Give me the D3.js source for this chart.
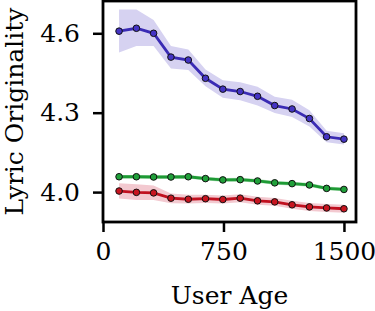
<!DOCTYPE html>
<html>
<head>
<meta charset="utf-8">
<script src="https://cdn.jsdelivr.net/npm/d3@7"></script>
<style>
body { margin: 0; background: #fff; }
svg { display: block; font-family: "DejaVu Serif", serif; }
</style>
</head>
<body>
<div id="chart"></div>
<script>
var ages = [100, 208, 315, 423, 531, 638, 746, 854, 962, 1069, 1177, 1285, 1392, 1500];

var blueMean = [4.608, 4.619, 4.600, 4.510, 4.499, 4.430, 4.389, 4.380, 4.362, 4.327, 4.314, 4.278, 4.209, 4.200];
var blueUpper = [4.690, 4.690, 4.650, 4.552, 4.539, 4.463, 4.423, 4.415, 4.398, 4.360, 4.349, 4.309, 4.232, 4.222];
var blueLower = [4.527, 4.552, 4.552, 4.467, 4.461, 4.400, 4.356, 4.347, 4.327, 4.299, 4.284, 4.248, 4.188, 4.180];

var greenMean = [4.058, 4.058, 4.057, 4.057, 4.058, 4.051, 4.046, 4.047, 4.042, 4.035, 4.032, 4.027, 4.014, 4.010];
var greenUpper = [4.065, 4.065, 4.064, 4.064, 4.065, 4.058, 4.053, 4.054, 4.049, 4.042, 4.039, 4.034, 4.021, 4.017];
var greenLower = [4.051, 4.051, 4.050, 4.050, 4.051, 4.044, 4.039, 4.040, 4.035, 4.028, 4.025, 4.020, 4.007, 4.003];

var redMean = [4.004, 3.999, 3.997, 3.977, 3.973, 3.975, 3.972, 3.977, 3.967, 3.963, 3.952, 3.944, 3.940, 3.937];
var redUpper = [4.033, 4.030, 4.025, 3.995, 3.990, 3.990, 3.987, 3.992, 3.982, 3.978, 3.967, 3.959, 3.955, 3.952];
var redLower = [3.976, 3.970, 3.970, 3.958, 3.957, 3.959, 3.957, 3.962, 3.952, 3.948, 3.937, 3.929, 3.925, 3.922];

var xTicks = [0, 750, 1500];
var yTicks = [4.0, 4.3, 4.6];

var width = 375, height = 311;
var margin = {top: 1, right: 19, bottom: 89, left: 103};

var svg = d3.select("#chart").append("svg")
	.attr("width", width)
	.attr("height", height);

var x = d3.scaleLinear()
	.domain([0, 1575])
	.range([margin.left, width - margin.right]);

var y = d3.scaleLinear()
	.domain([3.887, 4.722])
	.range([height - margin.bottom, margin.top]);

var series = [
	{mean: redMean, upper: redUpper, lower: redLower, line: "#c0101f", band: "#f3c9d0", dot: "#c8141f"},
	{mean: greenMean, upper: greenUpper, lower: greenLower, line: "#1e9a35", band: "#b7e3bf", dot: "#20a03a"},
	{mean: blueMean, upper: blueUpper, lower: blueLower, line: "#3a2bb4", band: "#d6d2f1", dot: "#4434c4"}
];

var area = d3.area()
	.x(function(d, i) { return x(ages[i]); })
	.y0(function(d) { return y(d[0]); })
	.y1(function(d) { return y(d[1]); });

var line = d3.line()
	.x(function(d, i) { return x(ages[i]); })
	.y(function(d) { return y(d); });

series.forEach(function(s){
	var band = s.lower.map(function(v, i) { return [v, s.upper[i]]; });
	svg.append("path")
		.datum(band)
		.attr("d", area)
		.attr("fill", s.band);
});

series.forEach(function(s){
	svg.append("path")
		.datum(s.mean)
		.attr("d", line)
		.attr("fill", "none")
		.attr("stroke", s.line)
		.attr("stroke-width", 2.8);

	svg.append("g")
		.selectAll("circle")
		.data(s.mean)
		.enter()
		.append("circle")
		.attr("cx", function(d, i) { return x(ages[i]); })
		.attr("cy", function(d) { return y(d); })
		.attr("r", 3.3)
		.attr("fill", s.dot)
		.attr("stroke", "#111")
		.attr("stroke-width", 1);
});

// axes
var xAxis = svg.append("g")
	.attr("transform", "translate(0," + (height - margin.bottom) + ")")
	.call(d3.axisBottom(x).tickValues(xTicks).tickFormat(d3.format("d")).tickSize(10).tickSizeOuter(0).tickPadding(10));

var yAxis = svg.append("g")
	.attr("transform", "translate(" + margin.left + ",0)")
	.call(d3.axisLeft(y).tickValues(yTicks).tickFormat(d3.format(".1f")).tickSize(10).tickSizeOuter(0).tickPadding(13));

[xAxis, yAxis].forEach(function(a){
	a.select(".domain").remove();
	a.selectAll(".tick line").attr("stroke", "#000").attr("stroke-width", 2.5);
	a.selectAll(".tick text").attr("font-size", 25).attr("font-family", "DejaVu Serif").attr("fill", "#000");
});

// frame
svg.append("rect")
	.attr("x", margin.left)
	.attr("y", margin.top)
	.attr("width", width - margin.left - margin.right)
	.attr("height", height - margin.top - margin.bottom)
	.attr("fill", "none")
	.attr("stroke", "#000")
	.attr("stroke-width", 2.8);

svg.append("text")
	.attr("x", (margin.left + width - margin.right) / 2)
	.attr("y", 304)
	.attr("text-anchor", "middle")
	.attr("font-size", 25)
	.text("User Age");

svg.append("text")
	.attr("transform", "translate(23," + ((margin.top + height - margin.bottom) / 2) + ") rotate(-90)")
	.attr("text-anchor", "middle")
	.attr("font-size", 25)
	.text("Lyric Originality");
</script>
</body>
</html>
